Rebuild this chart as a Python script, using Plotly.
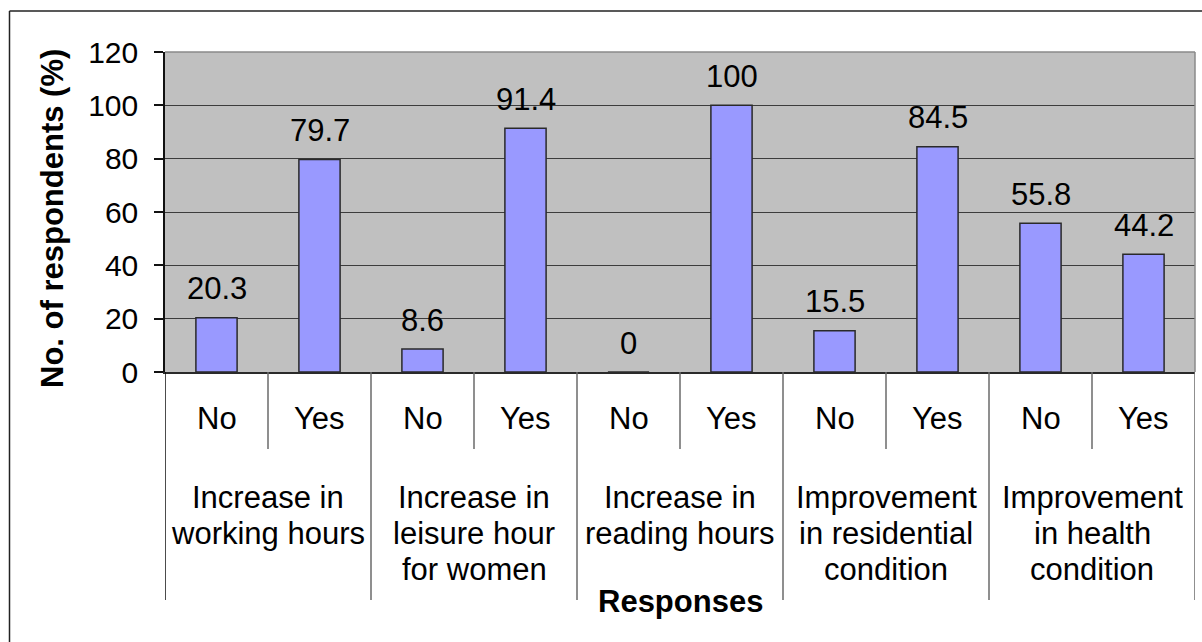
import plotly.graph_objects as go

# ---- data ----
groups = ["Increase in<br>working hours", "Increase in<br>leisure hour<br>for women",
          "Increase in<br>reading hours", "Improvement<br>in residential<br>condition",
          "Improvement<br>in health<br>condition"]
responses = ["No", "Yes"]
values = [20.3, 79.7, 8.6, 91.4, 0, 100, 15.5, 84.5, 55.8, 44.2]
value_labels = ["20.3", "79.7", "8.6", "91.4", "0", "100", "15.5", "84.5", "55.8", "44.2"]
y_ticks = [0, 20, 40, 60, 80, 100, 120]
y_title = "No. of respondents (%)"
x_title = "Responses"

FONT = "Liberation Sans, Arial, sans-serif"
W, H = 1202, 642
ML, MR, MT, MB = 165, 7, 52, 270
PH = H - MT - MB  # plot height in px


def py2paper(py):
    return (H - MB - py) / PH


def px2paper(px):
    return (px - ML) / (W - ML - MR)


xs = list(range(len(values)))

fig = go.Figure()
fig.add_trace(go.Bar(
    x=xs, y=values,
    marker=dict(color="#9999FF", line=dict(color="#2a2a2a", width=1.5)),
    width=0.4, showlegend=False, hoverinfo="skip",
))

annotations = []
# data labels
for x, v, t in zip(xs, values, value_labels):
    annotations.append(dict(x=x, y=v, xref="x", yref="y", text=t, showarrow=False,
                            yanchor="middle", yshift=29,
                            font=dict(family=FONT, size=31, color="black")))

# inner category labels
cat_inner = [responses[i % 2] for i in range(len(values))]
for x, t in zip(xs, cat_inner):
    annotations.append(dict(x=x, y=py2paper(418), xref="x", yref="paper", text=t,
                            showarrow=False, yanchor="middle",
                            font=dict(family=FONT, size=31, color="black")))

# outer group labels (one annotation per line, 36px line pitch)
for g, label in enumerate(groups):
    for k, line in enumerate(label.split("<br>")):
        annotations.append(dict(x=2 * g + 0.5, y=py2paper(497 + 36 * k), xref="x", yref="paper",
                                text=line, showarrow=False, yanchor="middle",
                                font=dict(family=FONT, size=31, color="black")))

# axis titles
annotations.append(dict(x=px2paper(52), y=py2paper(219), xref="paper", yref="paper",
                        text="<b>" + y_title + "</b>", textangle=-90, showarrow=False,
                        xanchor="center", yanchor="middle",
                        font=dict(family=FONT, size=31, color="black")))
annotations.append(dict(x=4.5, y=py2paper(601), xref="x", yref="paper",
                        text="<b>" + x_title + "</b>", showarrow=False,
                        xanchor="center", yanchor="middle",
                        font=dict(family=FONT, size=31, color="black")))

shapes = []
# category dividers below the axis
for b in range(len(values) + 1):
    xb = b - 0.5
    outer = (b % 2 == 0)
    bottom = py2paper(600) if outer else py2paper(449)
    col = "#111111" if b == 0 else "#6a6a6a"
    shapes.append(dict(type="line", xref="x", yref="paper", x0=xb, x1=xb, y0=0, y1=bottom,
                       line=dict(color=col, width=1.5)))
# plot area top/right border
shapes.append(dict(type="line", xref="paper", yref="paper", x0=0, x1=1, y0=1, y1=1,
                   line=dict(color="#8a8a8a", width=1.5)))
shapes.append(dict(type="line", xref="paper", yref="paper", x0=1, x1=1, y0=0, y1=1,
                   line=dict(color="#8a8a8a", width=1.5)))
# outer chart border (left and top only visible)
shapes.append(dict(type="line", xref="paper", yref="paper", x0=px2paper(9.5), x1=px2paper(9.5),
                   y0=py2paper(11), y1=py2paper(700), line=dict(color="#222222", width=1.5)))
shapes.append(dict(type="line", xref="paper", yref="paper", x0=px2paper(9.5), x1=px2paper(1215),
                   y0=py2paper(11), y1=py2paper(11), line=dict(color="#222222", width=1.5)))

fig.update_layout(
    width=W, height=H,
    margin=dict(l=ML, r=MR, t=MT, b=MB, pad=0),
    paper_bgcolor="white", plot_bgcolor="#C0C0C0",
    font=dict(family=FONT, color="black"),
    bargap=0.6,
    xaxis=dict(range=[-0.5, len(values) - 0.5], showticklabels=False, showgrid=False,
               zeroline=False, showline=True, linecolor="#2a2a2a", linewidth=1.5, ticks=""),
    yaxis=dict(range=[0, 120], tickvals=y_ticks, ticks="outside", ticklen=9, tickwidth=1.5,
               tickcolor="#111111", showline=True, linecolor="#111111", linewidth=1.5,
               showgrid=True, gridcolor="#3c3c3c", gridwidth=1.3, zeroline=False,
               tickfont=dict(family=FONT, size=30, color="black"), ticklabelstandoff=10),
    annotations=annotations, shapes=shapes,
)

fig.write_html("out.html")
